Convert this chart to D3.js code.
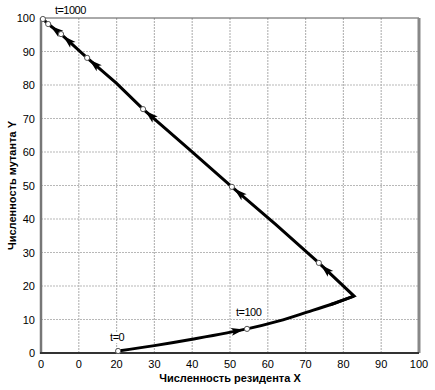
<!DOCTYPE html>
<html>
<head>
<meta charset="utf-8">
<script src="https://cdn.jsdelivr.net/npm/d3@7"></script>
<style>
  body { margin: 0; background: #fff; }
  text { font-family: "Liberation Sans", Arial, sans-serif; }
</style>
</head>
<body>
<svg id="chart" width="435" height="390"></svg>
<script>
// траектория (x, y): рост до пика, затем спад X
var trajectory = [
  [20.4, 0.6], [30, 2.2], [40, 4.1], [54.5, 7.2],
  [63, 9.6], [70.4, 12.2], [76.5, 14.4], [82.8, 17],
  [73.5, 26.9], [62, 38.5], [50.5, 49.6], [39, 61], [27, 72.8], [20, 80.5],
  [12.2, 88.1], [5.3, 95.2], [1.9, 98.2], [0.5, 99.7]
];
var peakIdx = 7;
// индексы отмеченных точек
var markerIdx = [0, 3, 8, 10, 12, 14, 15, 16, 17];
var arrowIdx = [3, 8, 10, 12, 14, 15, 16];
var xTicks = [0, 10, 20, 30, 40, 50, 60, 70, 80, 90, 100];
var xTickLabels = ["0", "0", "20", "30", "40", "50", "60", "70", "80", "90", "100"];
var yTicks = [0, 10, 20, 30, 40, 50, 60, 70, 80, 90, 100];
var labels = [
  { text: "t=0", x: 20.4, y: 0.6, dx: -8, dy: -10 },
  { text: "t=100", x: 54.5, y: 7.2, dx: -11, dy: -13 },
  { text: "t=1000", x: 0.5, y: 99.7, dx: 12, dy: -5 }
];

var svg = d3.select("#chart");
var m = { left: 41, right: 16, top: 18, bottom: 37 };
var W = 435, H = 390;
var x = d3.scaleLinear().domain([0, 100]).range([m.left, W - m.right]);
var y = d3.scaleLinear().domain([0, 100]).range([H - m.bottom, m.top]);

// сетка
svg.append("g").selectAll("line").data(xTicks.slice(1, -1)).enter().append("line")
  .attr("x1", function(d) { return x(d); }).attr("x2", function(d) { return x(d); })
  .attr("y1", y(0)).attr("y2", y(100))
  .attr("stroke", "#b8b8b8").attr("stroke-width", 1.2).attr("stroke-dasharray", "2,1");
svg.append("g").selectAll("line").data(yTicks.slice(1, -1)).enter().append("line")
  .attr("y1", function(d) { return y(d); }).attr("y2", function(d) { return y(d); })
  .attr("x1", x(0)).attr("x2", x(100))
  .attr("stroke", "#b8b8b8").attr("stroke-width", 1.2).attr("stroke-dasharray", "2,1");

// рамка
svg.append("line").attr("x1", x(0)).attr("x2", x(100)).attr("y1", y(100)).attr("y2", y(100))
  .attr("stroke", "#555").attr("stroke-width", 1);
svg.append("line").attr("x1", x(100)).attr("x2", x(100)).attr("y1", y(100)).attr("y2", y(0))
  .attr("stroke", "#888").attr("stroke-width", 3);
svg.append("line").attr("x1", x(0)).attr("x2", x(0)).attr("y1", y(100)).attr("y2", y(0) + 1)
  .attr("stroke", "#777").attr("stroke-width", 2.5);
svg.append("line").attr("x1", x(0) - 1).attr("x2", x(100)).attr("y1", y(0)).attr("y2", y(0))
  .attr("stroke", "#333").attr("stroke-width", 2);

// подписи делений
svg.append("g").selectAll("text").data(xTicks).enter().append("text")
  .attr("x", function(d) { return x(d); }).attr("y", y(0) + 15)
  .attr("text-anchor", "middle").attr("font-size", 11)
  .text(function(d, i) { return xTickLabels[i]; });
svg.append("g").selectAll("text").data(yTicks).enter().append("text")
  .attr("x", x(0) - 6).attr("y", function(d) { return y(d) + 4; })
  .attr("text-anchor", "end").attr("font-size", 11)
  .text(function(d) { return d; });

// названия осей
svg.append("text").attr("x", (x(0) + x(100)) / 2).attr("y", 382)
  .attr("text-anchor", "middle").attr("font-size", 11).attr("font-weight", "bold")
  .text("Численность резидента X");
svg.append("text").attr("transform", "translate(16," + ((y(0) + y(100)) / 2) + ") rotate(-90)")
  .attr("text-anchor", "middle").attr("font-size", 11).attr("font-weight", "bold")
  .text("Численность мутанта Y");

// линия траектории: плавный подъём, прямой спад
var lineSmooth = d3.line().x(function(d) { return x(d[0]); }).y(function(d) { return y(d[1]); })
  .curve(d3.curveCatmullRom);
var lineStraight = d3.line().x(function(d) { return x(d[0]); }).y(function(d) { return y(d[1]); });
svg.append("path").datum(trajectory.slice(0, peakIdx + 1)).attr("d", lineSmooth)
  .attr("fill", "none").attr("stroke", "#000").attr("stroke-width", 3);
svg.append("path").datum(trajectory.slice(peakIdx - 1)).attr("d", lineStraight)
  .attr("fill", "none").attr("stroke", "#000").attr("stroke-width", 3)
  .attr("stroke-linejoin", "miter");

// стрелки
svg.append("g").selectAll("path").data(arrowIdx).enter().append("path")
  .attr("d", "M0,0 L-13,-4 L-10,0 L-13,4 Z")
  .attr("fill", "#000")
  .attr("transform", function(i) {
    var p = trajectory[i], q = trajectory[i - 1];
    var px = x(p[0]), py = y(p[1]);
    var a = Math.atan2(py - y(q[1]), px - x(q[0]));
    return "translate(" + (px - 3 * Math.cos(a)) + "," + (py - 3 * Math.sin(a)) +
      ") rotate(" + (a * 180 / Math.PI) + ")";
  });

// точки
svg.append("g").selectAll("circle").data(markerIdx).enter().append("circle")
  .attr("cx", function(i) { return x(trajectory[i][0]); })
  .attr("cy", function(i) { return y(trajectory[i][1]); })
  .attr("r", 2.6).attr("fill", "#fff").attr("stroke", "#555").attr("stroke-width", 1);

// подписи времени
var lg = svg.append("g").selectAll("g").data(labels).enter().append("g");
lg.append("rect")
  .attr("x", function(d) { return x(d.x) + d.dx - 1; })
  .attr("y", function(d) { return y(d.y) + d.dy - 9; })
  .attr("width", function(d) { return d.text.length * 5.8 + 2; }).attr("height", 11)
  .attr("fill", "#fff");
lg.append("text")
  .attr("x", function(d) { return x(d.x) + d.dx; })
  .attr("y", function(d) { return y(d.y) + d.dy; })
  .attr("font-size", 11).attr("letter-spacing", -0.5)
  .text(function(d) { return d.text; });
</script>
</body>
</html>
